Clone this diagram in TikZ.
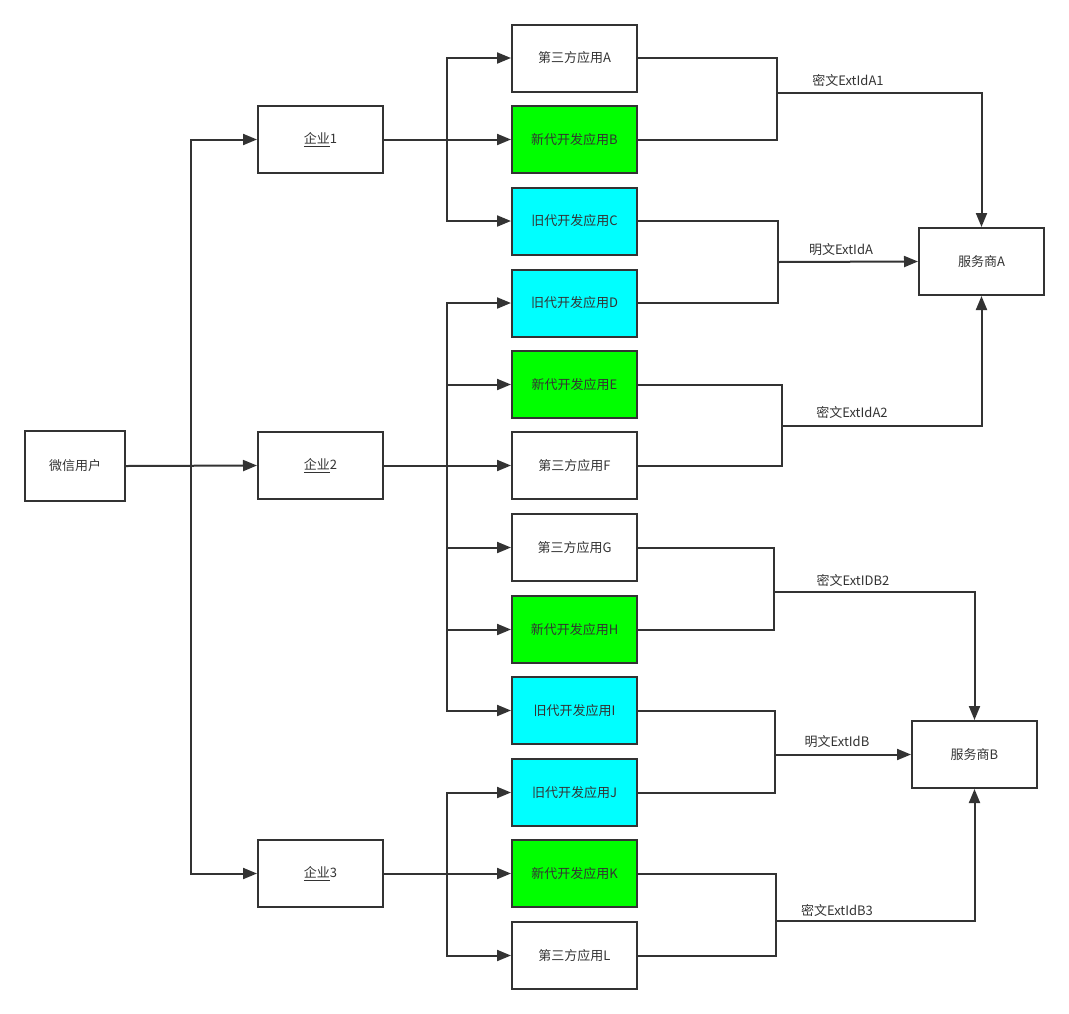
\documentclass[tikz,border=0pt]{standalone}
\usepackage{fontspec}
\setmainfont{Noto Sans CJK SC}
\usetikzlibrary{arrows.meta}
\definecolor{ln}{HTML}{333333}
\definecolor{newg}{HTML}{00FF00}
\definecolor{oldc}{HTML}{00FFFF}
\tikzset{
  box/.style={draw=ln, line width=2pt, minimum width=125pt, minimum height=67pt, inner sep=0pt, text=ln, font=\fontsize{13}{15}\selectfont},
  newapp/.style={box, fill=newg},
  oldapp/.style={box, fill=oldc},
  wire/.style={draw=ln, line width=2pt},
  arr/.style={wire, -{Triangle[length=14pt,width=11pt]}},
  lbl/.style={text=ln, font=\fontsize{13}{15}\selectfont, inner sep=0pt}
}
\begin{document}
\begin{tikzpicture}[x=1pt,y=-1pt]
\useasboundingbox (0,0) rectangle (1069,1013);
% left
\node[box, minimum width=100pt, minimum height=70pt] (u) at (75,466) {微信用户};
\node[box] (e1) at (320.5,139.5) {\underline{企业}1};
\node[box] (e2) at (320.5,465.5) {\underline{企业}2};
\node[box] (e3) at (320.5,873.5) {\underline{企业}3};
% apps
\node[box]    (A) at (574.5,58)  {第三方应用A};
\node[newapp] (B) at (574.5,139.5) {新代开发应用B};
\node[oldapp] (C) at (574.5,221) {旧代开发应用C};
\node[oldapp] (D) at (574.5,303) {旧代开发应用D};
\node[newapp] (E) at (574.5,384.5) {新代开发应用E};
\node[box]    (F) at (574.5,465.5) {第三方应用F};
\node[box]    (G) at (574.5,547.5) {第三方应用G};
\node[newapp] (H) at (574.5,629.5) {新代开发应用H};
\node[oldapp] (I) at (574.5,710.5) {旧代开发应用I};
\node[oldapp] (J) at (574.5,792.5) {旧代开发应用J};
\node[newapp] (K) at (574.5,873.5) {新代开发应用K};
\node[box]    (L) at (574.5,955.5) {第三方应用L};
% providers
\node[box] (sA) at (981.5,261.5) {服务商A};
\node[box] (sB) at (974.5,754.5) {服务商B};
% user -> enterprises
\draw[arr] (u.east) -- (191,466) |- (e1.west);
\draw[arr] (u.east) -- (e2.west);
\draw[arr] (u.east) -- (191,466) |- (e3.west);
% enterprise 1
\draw[arr] (e1.east) -- (447,139.5) |- (A.west);
\draw[arr] (e1.east) -- (B.west);
\draw[arr] (e1.east) -- (447,139.5) |- (C.west);
% enterprise 2
\foreach \n in {D,E,G,H,I}{\draw[arr] (e2.east) -- (447,465.5) |- (\n.west);}
\draw[arr] (e2.east) -- (F.west);
% enterprise 3
\draw[arr] (e3.east) -- (447,873.5) |- (J.west);
\draw[arr] (e3.east) -- (K.west);
\draw[arr] (e3.east) -- (447,873.5) |- (L.west);
% right side joins
\coordinate (c1) at (777,93);
\coordinate (c2) at (778,262);
\coordinate (c3) at (782,426);
\coordinate (c4) at (774,592);
\coordinate (c5) at (775,754.5);
\coordinate (c6) at (776,921);
\draw[wire] (A.east) -| (c1) |- (B.east);
\draw[arr] (c1) -| (sA.north);
\draw[wire] (C.east) -| (c2) |- (D.east);
\draw[arr] (c2) -- (sA.west);
\draw[wire] (E.east) -| (c3) |- (F.east);
\draw[arr] (c3) -| (sA.south);
\draw[wire] (G.east) -| (c4) |- (H.east);
\draw[arr] (c4) -| (sB.north);
\draw[wire] (I.east) -| (c5) |- (J.east);
\draw[arr] (c5) -- (sB.west);
\draw[wire] (K.east) -| (c6) |- (L.east);
\draw[arr] (c6) -| (sB.south);
% labels
\node[lbl] (l1) at (848,80)  {密文ExtIdA1};
\node[lbl] (l2) at (841,250) {明文ExtIdA};
\node[lbl] (l3) at (852,412) {密文ExtIdA2};
\node[lbl] (l4) at (853,580) {密文ExtIDB2};
\node[lbl] (l5) at (837,742) {明文ExtIdB};
\node[lbl] (l6) at (837,910) {密文ExtIdB3};
\end{tikzpicture}
\end{document}
